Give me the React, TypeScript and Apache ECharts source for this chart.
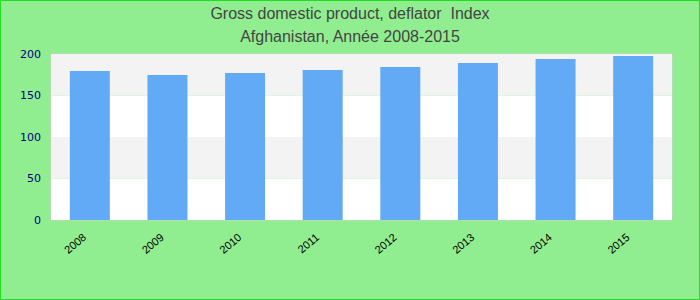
import React, { useEffect, useRef } from "react";
import * as echarts from "echarts";

const categories = ["2008", "2009", "2010", "2011", "2012", "2013", "2014", "2015"];
const values = [179.5, 174.7, 177.1, 180.7, 184.3, 189.2, 194.0, 197.6];
const yTicks = [0, 50, 100, 150, 200];

export default function App() {
  const ref = useRef<HTMLDivElement>(null);
  useEffect(() => {
    document.body.style.margin = "0";
    const chart = echarts.init(ref.current!, null, { renderer: "svg" });
    chart.setOption({
      animation: false,
      backgroundColor: "#90ee90",
      title: {
        text: "Gross domestic product, deflator  Index\nAfghanistan, Année 2008-2015",
        left: "center",
        top: -3,
        textStyle: {
          color: "#444444",
          fontFamily: "Liberation Sans",
          fontSize: 16,
          fontWeight: "normal",
          lineHeight: 23,
        },
      },
      graphic: [
        {
          type: "rect",
          shape: { x: 0.5, y: 0.5, width: 699, height: 299 },
          style: { fill: "none", stroke: "#22dd22", lineWidth: 1 },
          silent: true,
        },
      ],
      grid: {
        left: 51,
        right: 28,
        top: 54,
        bottom: 80,
        show: true,
        borderColor: "#cccccc",
        borderWidth: 1,
        backgroundColor: "transparent",
      },
      xAxis: {
        type: "category",
        data: categories,
        axisLine: { show: false },
        axisTick: { show: false },
        axisLabel: {
          rotate: 40,
          margin: 11,
          padding: [0, 7, 0, 0],
          color: "#000000",
          fontFamily: "Liberation Sans",
          fontSize: 11,
        },
      },
      yAxis: {
        type: "value",
        min: yTicks[0],
        max: yTicks[yTicks.length - 1],
        interval: 50,
        axisLine: { show: false },
        axisTick: { show: false },
        splitLine: { show: false },
        splitArea: {
          show: true,
          areaStyle: { color: ["#ffffff", "#f3f3f3"] },
        },
        axisLabel: {
          margin: 10,
          color: "#000080",
          fontFamily: "DejaVu Sans",
          fontSize: 11,
        },
      },
      series: [
        {
          type: "bar",
          data: values,
          barWidth: 40,
          itemStyle: { color: "#62aaf5" },
        },
      ],
    });
    return () => chart.dispose();
  }, []);
  return <div ref={ref} style={{ width: 700, height: 300 }} />;
}
